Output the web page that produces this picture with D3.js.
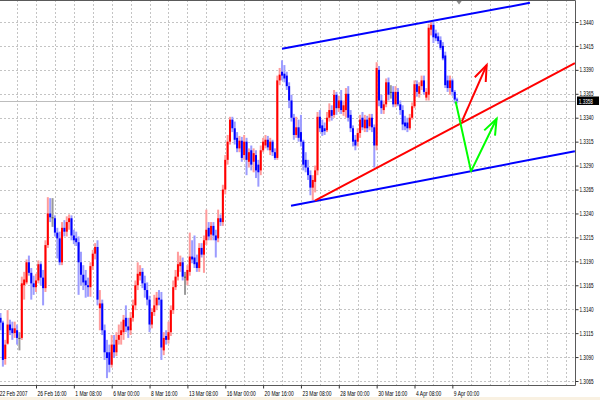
<!DOCTYPE html>
<html><head><meta charset="utf-8">
<script src="https://cdn.jsdelivr.net/npm/d3@7"></script>
<style>html,body{margin:0;padding:0;background:#fff;overflow:hidden}</style>
</head><body>
<svg id="c" width="600" height="400"></svg>
<script>
// ---- data (EURUSD-like H4 candles, bar index 1..194) ----
const firstBar = 1;
const open = [1.3131,1.3126,1.3088,1.3104,1.3124,1.3120,1.3115,1.3118,1.3110,1.3110,1.3165,1.3168,1.3189,1.3178,1.3167,1.3163,1.3170,1.3187,1.3173,1.3162,1.3207,1.3240,1.3236,1.3235,1.3220,1.3214,1.3189,1.3225,1.3221,1.3231,1.3235,1.3217,1.3214,1.3210,1.3189,1.3176,1.3170,1.3165,1.3163,1.3185,1.3198,1.3205,1.3141,1.3146,1.3118,1.3095,1.3095,1.3082,1.3103,1.3095,1.3108,1.3113,1.3116,1.3131,1.3122,1.3118,1.3131,1.3144,1.3165,1.3175,1.3179,1.3167,1.3160,1.3150,1.3124,1.3137,1.3144,1.3152,1.3150,1.3097,1.3112,1.3108,1.3116,1.3139,1.3163,1.3174,1.3185,1.3189,1.3174,1.3170,1.3179,1.3195,1.3194,1.3189,1.3183,1.3204,1.3197,1.3212,1.3225,1.3218,1.3227,1.3217,1.3214,1.3235,1.3231,1.3265,1.3296,1.3315,1.3338,1.3329,1.3319,1.3308,1.3316,1.3301,1.3315,1.3294,1.3306,1.3294,1.3301,1.3291,1.3285,1.3306,1.3311,1.3317,1.3306,1.3315,1.3304,1.3298,1.3379,1.3388,1.3386,1.3384,1.3373,1.3358,1.3340,1.3322,1.3330,1.3325,1.3315,1.3296,1.3288,1.3280,1.3267,1.3273,1.3285,1.3341,1.3332,1.3329,1.3327,1.3340,1.3348,1.3343,1.3364,1.3350,1.3358,1.3346,1.3348,1.3365,1.3343,1.3329,1.3317,1.3315,1.3324,1.3340,1.3329,1.3338,1.3331,1.3340,1.3330,1.3311,1.3390,1.3358,1.3348,1.3354,1.3377,1.3367,1.3367,1.3354,1.3367,1.3354,1.3348,1.3335,1.3335,1.3329,1.3340,1.3352,1.3375,1.3365,1.3373,1.3379,1.3361,1.3364,1.3432,1.3437,1.3428,1.3425,1.3421,1.3415,1.3405,1.3379,1.3371,1.3379,1.3367,1.3359];
const high = [1.3136,1.3128,1.3108,1.3139,1.3129,1.3127,1.3127,1.3124,1.3116,1.3174,1.3179,1.3192,1.3196,1.3183,1.3175,1.3177,1.3191,1.3189,1.3181,1.3212,1.3257,1.3256,1.3256,1.3238,1.3225,1.3221,1.3231,1.3233,1.3237,1.3239,1.3238,1.3223,1.3221,1.3216,1.3200,1.3186,1.3181,1.3173,1.3189,1.3202,1.3209,1.3212,1.3160,1.3150,1.3124,1.3108,1.3103,1.3113,1.3113,1.3116,1.3124,1.3127,1.3134,1.3144,1.3131,1.3137,1.3150,1.3170,1.3189,1.3186,1.3183,1.3175,1.3168,1.3154,1.3141,1.3155,1.3158,1.3160,1.3158,1.3116,1.3118,1.3127,1.3144,1.3170,1.3181,1.3200,1.3196,1.3194,1.3179,1.3186,1.3220,1.3212,1.3217,1.3197,1.3209,1.3209,1.3217,1.3244,1.3231,1.3231,1.3231,1.3223,1.3244,1.3239,1.3270,1.3301,1.3322,1.3341,1.3341,1.3336,1.3325,1.3321,1.3320,1.3322,1.3319,1.3308,1.3311,1.3308,1.3306,1.3296,1.3311,1.3319,1.3322,1.3321,1.3319,1.3317,1.3308,1.3384,1.3392,1.3400,1.3395,1.3388,1.3377,1.3364,1.3344,1.3341,1.3338,1.3343,1.3317,1.3304,1.3296,1.3285,1.3280,1.3290,1.3346,1.3348,1.3338,1.3335,1.3346,1.3355,1.3353,1.3369,1.3367,1.3363,1.3369,1.3358,1.3371,1.3373,1.3348,1.3332,1.3322,1.3329,1.3343,1.3346,1.3343,1.3342,1.3344,1.3344,1.3333,1.3398,1.3394,1.3364,1.3358,1.3381,1.3382,1.3374,1.3373,1.3373,1.3371,1.3358,1.3353,1.3342,1.3340,1.3344,1.3356,1.3379,1.3379,1.3377,1.3384,1.3384,1.3371,1.3438,1.3441,1.3440,1.3432,1.3429,1.3425,1.3419,1.3409,1.3384,1.3384,1.3381,1.3369,1.3361];
const low = [1.3118,1.3080,1.3082,1.3103,1.3113,1.3108,1.3110,1.3103,1.3097,1.3108,1.3150,1.3166,1.3175,1.3150,1.3155,1.3158,1.3167,1.3165,1.3144,1.3158,1.3204,1.3231,1.3226,1.3216,1.3193,1.3186,1.3186,1.3216,1.3216,1.3223,1.3212,1.3208,1.3206,1.3155,1.3165,1.3160,1.3152,1.3153,1.3153,1.3181,1.3192,1.3144,1.3118,1.3113,1.3087,1.3068,1.3074,1.3079,1.3089,1.3091,1.3103,1.3103,1.3108,1.3116,1.3110,1.3113,1.3127,1.3139,1.3160,1.3170,1.3162,1.3152,1.3144,1.3116,1.3120,1.3133,1.3139,1.3144,1.3087,1.3092,1.3103,1.3104,1.3112,1.3135,1.3160,1.3170,1.3179,1.3170,1.3155,1.3165,1.3175,1.3188,1.3183,1.3179,1.3179,1.3194,1.3178,1.3207,1.3212,1.3212,1.3212,1.3194,1.3210,1.3227,1.3227,1.3260,1.3291,1.3312,1.3325,1.3312,1.3304,1.3304,1.3294,1.3296,1.3280,1.3288,1.3285,1.3283,1.3277,1.3268,1.3280,1.3304,1.3308,1.3306,1.3301,1.3300,1.3296,1.3296,1.3374,1.3379,1.3377,1.3369,1.3350,1.3336,1.3317,1.3319,1.3315,1.3310,1.3285,1.3283,1.3275,1.3259,1.3254,1.3262,1.3280,1.3325,1.3321,1.3322,1.3325,1.3336,1.3337,1.3340,1.3343,1.3346,1.3344,1.3342,1.3340,1.3336,1.3325,1.3310,1.3306,1.3310,1.3319,1.3327,1.3325,1.3325,1.3327,1.3325,1.3288,1.3306,1.3352,1.3344,1.3344,1.3351,1.3358,1.3360,1.3351,1.3351,1.3352,1.3343,1.3327,1.3327,1.3325,1.3327,1.3338,1.3350,1.3362,1.3361,1.3369,1.3364,1.3358,1.3358,1.3426,1.3418,1.3420,1.3417,1.3411,1.3400,1.3371,1.3367,1.3364,1.3363,1.3355,1.3355];
const close = [1.3126,1.3087,1.3103,1.3124,1.3118,1.3115,1.3120,1.3110,1.3110,1.3167,1.3171,1.3189,1.3178,1.3167,1.3163,1.3170,1.3187,1.3173,1.3162,1.3207,1.3240,1.3236,1.3236,1.3220,1.3214,1.3189,1.3225,1.3221,1.3231,1.3235,1.3217,1.3212,1.3210,1.3189,1.3176,1.3168,1.3165,1.3163,1.3185,1.3198,1.3205,1.3150,1.3146,1.3118,1.3095,1.3089,1.3082,1.3103,1.3095,1.3108,1.3113,1.3118,1.3129,1.3122,1.3118,1.3131,1.3144,1.3165,1.3177,1.3179,1.3167,1.3160,1.3150,1.3124,1.3137,1.3144,1.3152,1.3150,1.3100,1.3110,1.3108,1.3116,1.3139,1.3163,1.3174,1.3187,1.3189,1.3174,1.3174,1.3181,1.3195,1.3192,1.3187,1.3183,1.3204,1.3197,1.3212,1.3223,1.3216,1.3227,1.3217,1.3212,1.3235,1.3231,1.3265,1.3296,1.3315,1.3338,1.3329,1.3317,1.3308,1.3316,1.3298,1.3315,1.3296,1.3304,1.3291,1.3303,1.3285,1.3283,1.3306,1.3315,1.3317,1.3309,1.3315,1.3304,1.3298,1.3379,1.3385,1.3384,1.3381,1.3373,1.3358,1.3340,1.3322,1.3330,1.3319,1.3315,1.3291,1.3288,1.3280,1.3267,1.3275,1.3285,1.3341,1.3329,1.3325,1.3326,1.3340,1.3348,1.3342,1.3364,1.3350,1.3358,1.3348,1.3353,1.3365,1.3340,1.3329,1.3315,1.3311,1.3324,1.3338,1.3330,1.3338,1.3329,1.3340,1.3330,1.3311,1.3392,1.3358,1.3350,1.3354,1.3377,1.3364,1.3367,1.3354,1.3367,1.3354,1.3348,1.3333,1.3331,1.3329,1.3340,1.3352,1.3375,1.3367,1.3373,1.3379,1.3367,1.3367,1.3434,1.3437,1.3424,1.3423,1.3420,1.3413,1.3402,1.3374,1.3371,1.3379,1.3367,1.3359,1.3358];

const barsPerLabel = 16;
const timeLabels = ["22 Feb 2007","26 Feb 16:00","1 Mar 08:00","6 Mar 00:00","8 Mar 16:00","13 Mar 08:00","16 Mar 00:00","20 Mar 16:00","23 Mar 08:00","28 Mar 00:00","30 Mar 16:00","4 Apr 08:00","9 Apr 00:00"];
const priceTicks = [1.3065,1.3090,1.3115,1.3140,1.3165,1.3190,1.3215,1.3240,1.3265,1.3290,1.3315,1.3340,1.3365,1.3390,1.3415,1.3440];
const lastPrice = 1.3358;

// hand-drawn objects: [bar index, price]
const upperChannel = [[120.0,1.3412],[224.8,1.3460]];
const lowerChannel = [[123.8,1.3248],[243.8,1.3305]];
const redTrend     = [[133.9,1.32535],[243.8,1.3397]];
const redArrow     = [[196.0,1.3336],[206.5,1.3395]];
const greenArrow   = [[193.4,1.3357],[199.9,1.3284],[210.7,1.3339]];

// ---- layout ----
const plotR = 575.5, plotB = 385.5;
const svg = d3.select('#c');
const x = d3.scaleLinear().domain([0, barsPerLabel]).range([-1.85, -1.85 + 37.85]);
const y = d3.scaleLinear().domain([1.3065, 1.3440]).range([381, 22]);
const FONT = "'Liberation Sans', Arial, sans-serif";
const SX = 0.66;
const FS = '7px';

svg.append('rect').attr('width',600).attr('height',400).attr('fill','#fff');
svg.append('rect').attr('x',0).attr('y',397).attr('width',600).attr('height',3).attr('fill','#f9f1e2');
svg.append('defs').append('clipPath').attr('id','clip')
  .append('rect').attr('x',0).attr('y',0).attr('width',plotR).attr('height',plotB);

const plot = svg.append('g').attr('clip-path','url(#clip)');

// grid
const vgrid = d3.range(8, 245, 8);
plot.append('g').selectAll('line').data(vgrid).join('line')
  .attr('x1',d=>Math.round(x(d))+0.5).attr('x2',d=>Math.round(x(d))+0.5)
  .attr('y1',0).attr('y2',plotB)
  .attr('stroke','#c4c4c4').attr('stroke-dasharray','2,2');
plot.append('g').selectAll('line').data(priceTicks).join('line')
  .attr('y1',d=>Math.round(y(d))+0.5).attr('y2',d=>Math.round(y(d))+0.5)
  .attr('x1',0).attr('x2',plotR)
  .attr('stroke','#c4c4c4').attr('stroke-dasharray','2,2');

// last price line
plot.append('line').attr('x1',0).attr('x2',plotR)
  .attr('y1',Math.round(y(lastPrice))+0.5).attr('y2',Math.round(y(lastPrice))+0.5)
  .attr('stroke','#bdbdbd').attr('stroke-width',1);

// candles
const bars = close.map((c,k)=>({i:k+firstBar,o:open[k],h:high[k],l:low[k],c}));
const colOf = b => b.c>b.o ? '#ff0000' : (b.c<b.o ? '#0000ff' : '#555555');
const wickOf = b => b.c>b.o ? '#ff9c9c' : (b.c<b.o ? '#9c9cff' : '#9a9a9a');
plot.append('g').selectAll('rect').data(bars).join('rect')
  .attr('x',b=>x(b.i)-1).attr('width',2)
  .attr('y',b=>y(b.h)).attr('height',b=>Math.max(1,y(b.l)-y(b.h)))
  .attr('fill',wickOf);
plot.append('g').selectAll('rect').data(bars).join('rect')
  .attr('x',b=>x(b.i)-1).attr('width',2)
  .attr('y',b=>y(Math.max(b.o,b.c)))
  .attr('height',b=>Math.max(1,y(Math.min(b.o,b.c))-y(Math.max(b.o,b.c))))
  .attr('fill',colOf);

// trend objects
const line = d3.line().x(d=>x(d[0])).y(d=>y(d[1]));
function drawLine(pts,color){
  plot.append('path').attr('d',line(pts)).attr('fill','none')
    .attr('stroke',color).attr('stroke-width',2).attr('stroke-linejoin','round');
}
function arrowHead(pts,color){
  const a = pts[pts.length-2], b = pts[pts.length-1];
  const ax=x(a[0]), ay=y(a[1]), bx=x(b[0]), by=y(b[1]);
  const ang = Math.atan2(ay-by, ax-bx), L=17, s=0.36;
  const w1=[bx+L*Math.cos(ang+s), by+L*Math.sin(ang+s)];
  const w2=[bx+L*Math.cos(ang-s), by+L*Math.sin(ang-s)];
  plot.append('path').attr('d',`M${w1}L${bx},${by}L${w2}`).attr('fill','none')
    .attr('stroke',color).attr('stroke-width',2);
}
drawLine(upperChannel,'#0000ff');
drawLine(lowerChannel,'#0000ff');
drawLine(redTrend,'#ff0000');
drawLine(redArrow,'#ff0000'); arrowHead(redArrow,'#ff0000');
drawLine(greenArrow,'#00ff00'); arrowHead(greenArrow,'#00ff00');

// shift marker
const sxm = x(194)+2;
svg.append('path').attr('d',`M${sxm-3},0.5L${sxm+3},0.5L${sxm},4.5Z`).attr('fill','#8a8a8a');

// frame
svg.append('path').attr('d',`M0,0.5H${plotR}V${plotB}H0`).attr('fill','none').attr('stroke','#5a5a5a');

// y axis
const yAxis = svg.append('g').attr('transform',`translate(${plotR},0)`)
  .call(d3.axisRight(y).tickValues(priceTicks).tickSize(3).tickFormat(d3.format('.4f')));
yAxis.select('.domain').remove();
yAxis.selectAll('line').attr('stroke','#333');
yAxis.selectAll('text').attr('x',4/SX).attr('dy','0.3em')
  .attr('transform',`scale(${SX},1)`)
  .style('font-family',FONT).style('font-size',FS).attr('fill','#000');

// last price box
const ly = y(lastPrice);
svg.append('rect').attr('x',577).attr('y',ly-4).attr('width',22).attr('height',8.5).attr('fill','#000');
svg.append('text').attr('transform',`translate(578.8,${ly+3.5}) scale(${SX},1)`)
  .text(d3.format('.4f')(lastPrice)).attr('fill','#fff')
  .style('font-family',FONT).style('font-size',FS);

// x axis
const xAxis = svg.append('g').attr('transform',`translate(0,${plotB})`)
  .call(d3.axisBottom(x).tickValues(timeLabels.map((_,k)=>k*barsPerLabel)).tickSize(3)
    .tickFormat((d,k)=>timeLabels[k]));
xAxis.select('.domain').remove();
xAxis.selectAll('line').attr('stroke','#333');
xAxis.selectAll('text').attr('text-anchor','start').attr('x',1/SX).attr('y',10.5).attr('dy',0)
  .attr('transform',`scale(${SX},1)`)
  .style('font-family',FONT).style('font-size','7.5px').attr('fill','#000');
</script>
</body></html>
